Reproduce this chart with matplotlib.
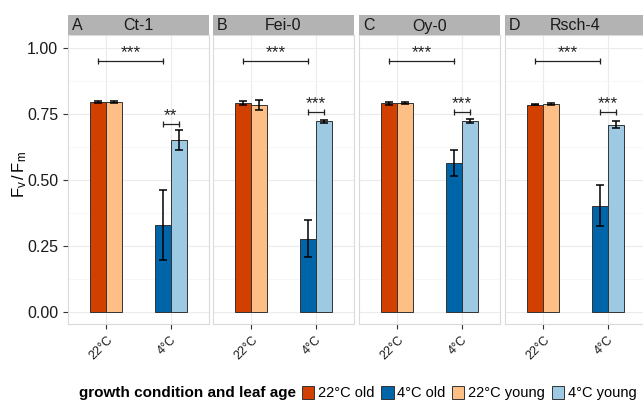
import matplotlib
matplotlib.use("Agg")
import matplotlib.pyplot as plt
from matplotlib.patches import Patch
import numpy as np

plt.rcParams['font.family'] = ['Liberation Sans', 'DejaVu Sans']
plt.rcParams['mathtext.fontset'] = 'custom'
plt.rcParams['mathtext.rm'] = 'Liberation Sans'
plt.rcParams['mathtext.it'] = 'Liberation Sans'

# data
genotypes = ['Ct-1', 'Fei-0', 'Oy-0', 'Rsch-4']
panel_tags = ['A', 'B', 'C', 'D']
conditions = ['22°C', '4°C']

old_22 = [0.795, 0.790, 0.790, 0.785]
old_22_err = [0.005, 0.008, 0.005, 0.003]
young_22 = [0.795, 0.783, 0.790, 0.787]
young_22_err = [0.002, 0.018, 0.004, 0.003]
old_4 = [0.327, 0.277, 0.565, 0.402]
old_4_err = [0.133, 0.071, 0.049, 0.079]
young_4 = [0.650, 0.722, 0.724, 0.709]
young_4_err = [0.039, 0.006, 0.007, 0.013]

sig_old = ['***', '***', '***', '***']
sig_old_y = [0.95, 0.95, 0.95, 0.95]
sig_4c = ['**', '***', '***', '***']
sig_4c_y = [0.712, 0.757, 0.757, 0.757]

legend_labels = ['22°C old', '4°C old', '22°C young', '4°C young']
colors = {'22°C old': '#D24000', '4°C old': '#0064A8',
          '22°C young': '#FDBF86', '4°C young': '#9DC9E2'}

W, H = 643, 401
fig = plt.figure(figsize=(W / 100, H / 100), dpi=100)

panel_left = [68, 213, 359, 505]
panel_w = 141
panel_top, panel_bot = 35, 324
strip_top = 15
bw = 0.25
x = np.arange(1, len(conditions) + 1)

for i, g in enumerate(genotypes):
    ax = fig.add_axes([panel_left[i] / W, 1 - panel_bot / H,
                       panel_w / W, (panel_bot - panel_top) / H])
    ax.set_xlim(0.4, 2.6)
    ax.set_ylim(-0.047, 1.049)
    ax.set_yticks([0, 0.25, 0.5, 0.75, 1.0])
    ax.set_yticks([0.125, 0.375, 0.625, 0.875], minor=True)
    ax.grid(True, which='major', color='#EBEBEB', lw=0.8)
    ax.grid(True, which='minor', axis='y', color='#F4F4F4', lw=0.5)
    ax.set_axisbelow(True)
    for s in ax.spines.values():
        s.set_color('#DADADA')
        s.set_linewidth(0.8)

    old = [old_22[i], old_4[i]]
    old_e = [old_22_err[i], old_4_err[i]]
    young = [young_22[i], young_4[i]]
    young_e = [young_22_err[i], young_4_err[i]]
    old_cols = [colors['22°C old'], colors['4°C old']]
    young_cols = [colors['22°C young'], colors['4°C young']]

    ax.bar(x - bw / 2, old, bw, color=old_cols, edgecolor='#333333', lw=0.7, zorder=2)
    ax.bar(x + bw / 2, young, bw, color=young_cols, edgecolor='#333333', lw=0.7, zorder=2)
    ax.errorbar(x - bw / 2, old, yerr=old_e, fmt='none', ecolor='black',
                elinewidth=1.1, capsize=3, capthick=1.1, zorder=3)
    ax.errorbar(x + bw / 2, young, yerr=young_e, fmt='none', ecolor='black',
                elinewidth=1.1, capsize=3, capthick=1.1, zorder=3)

    # significance brackets
    for (x1, x2, yy, lab) in [(1 - bw / 2, 2 - bw / 2, sig_old_y[i], sig_old[i]),
                              (2 - bw / 2, 2 + bw / 2, sig_4c_y[i], sig_4c[i])]:
        ax.plot([x1, x2], [yy, yy], color='#222222', lw=0.9, zorder=4)
        ax.plot([x1, x2], [yy, yy], ls='none', marker='|', ms=5, mew=0.9,
                color='#222222', zorder=4)
        ax.text((x1 + x2) / 2, yy + 0.002, lab, ha='center', va='bottom',
                fontsize=12.5, color='#222222')

    ax.set_xticks(x)
    ax.set_xticklabels(conditions, rotation=45, ha='right', rotation_mode='anchor',
                       fontsize=9, color='#1a1a1a')
    ax.tick_params(axis='both', which='major', length=3.5, color='#333333', width=0.8)
    ax.tick_params(axis='both', which='minor', length=0)
    if i == 0:
        ax.set_yticklabels(['0.00', '0.25', '0.50', '0.75', '1.00'],
                           fontsize=11.5, color='#1a1a1a')
    else:
        ax.tick_params(axis='y', which='major', length=0, labelleft=False)

    # strip on top
    sax = fig.add_axes([panel_left[i] / W, 1 - panel_top / H,
                        panel_w / W, (panel_top - strip_top) / H])
    sax.set_facecolor('#B3B3B3')
    sax.set_xticks([])
    sax.set_yticks([])
    for s in sax.spines.values():
        s.set_visible(False)
    sax.text(0.5, 0.45, g, transform=sax.transAxes, ha='center', va='center',
             fontsize=11.5, color='#1a1a1a')
    sax.text(0.03, 0.45, panel_tags[i], transform=sax.transAxes, ha='left',
             va='center', fontsize=11.5, color='#1a1a1a')

fig.text(20 / W, 1 - 175 / H, r'$\mathregular{F_v\,/\,F_m}$', rotation=90,
         ha='center', va='center', fontsize=12)

# legend along the bottom
fig.text(79 / W, 1 - 393 / H, 'growth condition and leaf age', fontweight='bold',
         fontsize=11, ha='left', va='center')
handles = [Patch(facecolor=colors[l], edgecolor='#333333', lw=0.7) for l in legend_labels]
fig.legend(handles, legend_labels, loc='center left', ncol=4,
           bbox_to_anchor=(302 / W, 1 - 393 / H), frameon=False, fontsize=10.5,
           handlelength=0.85, handleheight=1.05, handletextpad=0.25,
           columnspacing=0.45, borderaxespad=0, borderpad=0)

fig.savefig('out.png', dpi=100)
